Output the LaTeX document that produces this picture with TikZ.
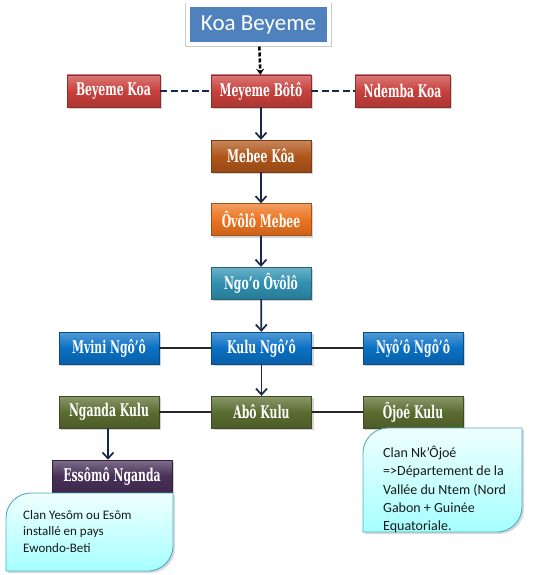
\documentclass[tikz,border=0pt]{standalone}
\usepackage{fontspec}
\setmainfont{Carlito}
\newfontfamily\boxfont{DejaVu Serif}[FakeStretch=0.62]
\usetikzlibrary{shadows, arrows.meta}

\definecolor{rouge}{HTML}{C8403C}
\definecolor{brun}{HTML}{B0561A}
\definecolor{orangeb}{HTML}{EC7420}
\definecolor{sarcelle}{HTML}{3090B0}
\definecolor{bleu}{HTML}{0A70C4}
\definecolor{olive}{HTML}{5A6C30}
\definecolor{prune}{HTML}{483058}
\definecolor{koableu}{HTML}{4F81BD}
\definecolor{marine}{HTML}{18284A}
\definecolor{bordnote}{HTML}{4BACC6}

\tikzset{
  famille/.style={draw=#1!70!black, top color=#1!70!white, bottom color=#1!85!black, middle color=#1,
    minimum width=100pt, minimum height=32pt, inner sep=0pt, text=white,
    font=\boxfont\bfseries\fontsize{17.5}{19}\selectfont,
    drop shadow={opacity=0.35, shadow xshift=2pt, shadow yshift=-2pt}},
  fleche/.style={->, marine, line width=1.7pt},
  trait/.style={black!85, line width=1.2pt},
  tiret/.style={marine, line width=2.4pt, dash pattern=on 7pt off 3.5pt},
  note/.style={draw=bordnote, line width=0.9pt, top color=cyan!6!white, bottom color=cyan!35!white,
    drop shadow={opacity=0.3, shadow xshift=2pt, shadow yshift=-2pt}},
  notetexte/.style={anchor=north west, inner sep=0pt, align=left, text=black!90},
}

\begin{document}
\begin{tikzpicture}[x=1pt, y=-1pt, >={Straight Barb[length=6pt,width=11pt]}]
  \useasboundingbox (0,0) rectangle (536,575);

  % Tete
  \node[fill=koableu, draw=white, line width=4pt, minimum width=141pt, minimum height=39pt,
    text=white, font=\fontsize{23}{26}\selectfont,
    preaction={draw=black!20, line width=5.5pt, drop shadow={opacity=0.3, shadow xshift=1.5pt, shadow yshift=-1.5pt}}]
    (koa) at (258.5,25) {Koa Beyeme};

  % Familles
  \node[famille=rouge] (meyeme) at (261,91) {Meyeme Bôtô};
  \node[famille=rouge, minimum width=93pt] (beyeme) at (113.5,91) {Beyeme Koa};
  \node[famille=rouge, minimum width=95pt] (ndemba) at (402.5,91) {Ndemba Koa};
  \node[famille=brun] (mebee) at (261,156) {Mebee Kôa};
  \node[famille=orangeb] (ovolo) at (261,219.5) {Ôvôlô Mebee};
  \node[famille=sarcelle] (ngoo) at (261,283) {Ngo’o Ôvôlô};
  \node[famille=bleu] (kulu) at (261.5,348) {Kulu Ngô’ô};
  \node[famille=bleu] (mvini) at (109,348) {Mvini Ngô’ô};
  \node[famille=bleu] (nyoo) at (413,348) {Nyô’ô Ngô’ô};
  \node[famille=olive] (abo) at (261.5,412) {Abô Kulu};
  \node[famille=olive] (nganda) at (109,412) {Nganda Kulu};
  \node[famille=olive] (ojoe) at (413,412) {Ôjoé Kulu};
  \node[famille=prune, minimum width=120pt] (essomo) at (112,476) {Essômô Nganda};

  % Liens
  \draw[black, line width=2.6pt, dash pattern=on 4pt off 2pt, -{Stealth[length=6pt,width=8pt]}] (koa) -- (meyeme);
  \draw[tiret] (beyeme) -- (meyeme);
  \draw[tiret] (meyeme) -- (ndemba);
  \draw[fleche] (meyeme) -- (mebee);
  \draw[fleche] (mebee) -- (ovolo);
  \draw[fleche] (ovolo) -- (ngoo);
  \draw[fleche] (ngoo) -- (kulu);
  \draw[fleche] (kulu) -- (abo);
  \draw[trait] (mvini) -- (kulu);
  \draw[trait] (kulu) -- (nyoo);
  \draw[trait] (nganda) -- (abo);
  \draw[trait] (abo) -- (ojoe);
  \draw[fleche] (nganda.south) ++(-1,0) -- ++(0,31.5);

  % Notes
  \path[note] (6,571) -- (6,518) .. controls (6,504.2) and (17.2,493) .. (31,493) -- (173,493) -- (173,546)
    .. controls (173,559.8) and (161.8,571) .. (148,571) -- cycle;
  \node[notetexte, font=\fontsize{13}{16.7}\selectfont] (noteyesom) at (23,510)
    {Clan Yesôm ou Esôm\\installé en pays\\Ewondo-Beti};

  \path[note] (363,532) -- (363,453) .. controls (363,439.2) and (374.2,428) .. (388,428) -- (522,428) -- (522,507)
    .. controls (522,520.8) and (510.8,532) .. (497,532) -- cycle;
  \node[notetexte, font=\fontsize{14}{18.3}\selectfont] (noteojoe) at (383,446)
    {Clan Nk’Ôjoé\\=>Département de la\\Vallée du Ntem (Nord\\Gabon + Guinée\\Equatoriale.};
\end{tikzpicture}
\end{document}
